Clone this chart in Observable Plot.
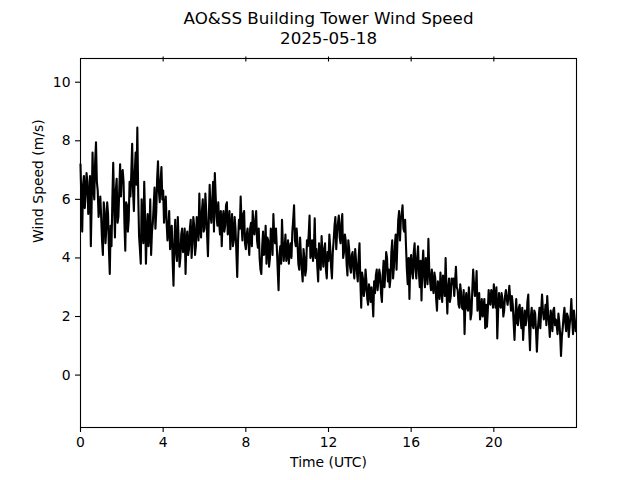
<!DOCTYPE html>
<html>
<head>
<meta charset="utf-8">
<script src="https://cdn.jsdelivr.net/npm/d3@7"></script>
<script src="https://cdn.jsdelivr.net/npm/@observablehq/plot@0.6"></script>
<style>
  html, body { margin: 0; padding: 0; background: #fff; }
  svg { display: block; }
</style>
</head>
<body>
<div id="chart"></div>
<script>
const titleLines = ["AO&SS Building Tower Wind Speed", "2025-05-18"];
const xLabel = "Time (UTC)";
const yLabel = "Wind Speed (m/s)";
const xTicks = [0, 4, 8, 12, 16, 20];
const yTicks = [0, 2, 4, 6, 8, 10];
const stepMinutes = 5;

// wind speed (m/s) at hh:00, hh:05, hh:10 ... read hour by hour from the picture
const speed = [
  // 00
  7.2, 4.9, 6.8, 6.2, 6.6, 5.9, 4.4, 7.6, 6.0, 7.95, 6.3, 5.7,
  // 01
  5.4, 4.1, 5.6, 5.0, 5.5, 3.45, 4.4, 7.25, 4.7, 6.7, 5.4, 7.2,
  // 02
  6.9, 6.6, 4.25, 5.8, 5.3, 6.1, 7.9, 5.6, 7.6, 8.45, 4.75, 3.8,
  // 03
  5.0, 6.6, 3.8, 5.5, 4.8, 4.1, 5.2, 6.4, 5.6, 7.3, 5.9, 7.1,
  // 04
  6.3, 5.7, 5.2, 5.0, 4.3, 5.1, 3.05, 5.3, 3.9, 4.6, 4.0, 5.0,
  // 05
  4.4, 3.45, 4.9, 4.3, 5.3, 4.5, 5.1, 4.4, 5.2, 6.2, 4.7, 6.0,
  // 06
  5.0, 5.6, 4.06, 6.5, 5.2, 6.6, 6.9, 5.4, 5.9, 4.8, 4.4, 5.6,
  // 07
  5.1, 5.9, 4.9, 4.3, 5.5, 4.6, 5.0, 3.35, 5.3, 6.1, 4.6, 5.6,
  // 08
  4.3, 5.0, 4.1, 5.2, 5.6, 4.8, 5.6, 4.35, 4.0, 3.45, 4.9, 4.2,
  // 09
  3.8, 4.6, 4.0, 4.8, 5.5, 4.5, 4.35, 2.9, 4.4, 5.3, 3.9, 4.8,
  // 10
  4.1, 3.8, 4.5, 4.9, 5.8, 4.4, 4.5, 3.6, 4.1, 3.2, 4.0, 3.6,
  // 11
  4.4, 5.45, 4.2, 3.9, 5.35, 4.3, 3.2, 4.1, 4.75, 3.7, 4.5, 3.3,
  // 12
  3.9, 4.35, 3.3, 4.6, 5.4, 4.9, 5.45, 4.5, 5.5, 4.2, 4.6, 3.4,
  // 13
  4.3, 3.5, 4.2, 3.3, 3.9, 3.2, 4.5, 2.3, 3.3, 2.9, 3.2, 2.4,
  // 14
  2.9, 3.0, 2.0, 2.8, 3.6, 3.2, 3.4, 2.5, 3.9, 3.5, 4.0, 3.6,
  // 15
  3.3, 4.6, 3.7, 4.8, 4.5, 5.6, 5.3, 5.8, 4.9, 4.4, 3.1, 2.6,
  // 16
  4.1, 3.3, 4.5, 3.3, 4.4, 3.0, 2.55, 4.25, 3.0, 3.6, 4.65, 3.2,
  // 17
  3.6, 2.8, 3.3, 2.2, 3.0, 3.5, 2.5, 3.2, 4.0, 2.1, 3.3, 2.7,
  // 18
  3.1, 2.7, 3.7, 2.9, 2.3, 2.8, 2.25, 1.4, 2.8, 2.2, 2.6, 2.1,
  // 19
  3.6, 2.7, 3.55, 2.5, 1.9, 2.6, 2.3, 1.6, 1.65, 2.9, 2.4, 2.8,
  // 20
  3.1, 2.3, 1.25, 2.8, 2.3, 2.6, 2.2, 2.9, 2.4, 3.05, 2.2, 2.4,
  // 21
  1.2, 2.6, 1.7, 2.4, 1.6, 1.2, 2.2, 1.9, 2.75, 0.85, 2.3, 1.6,
  // 22
  2.1, 0.8, 1.9, 1.6, 2.75, 1.9, 2.4, 2.7, 1.8, 2.2, 1.5, 2.3,
  // 23
  1.9, 1.4, 1.8, 0.65, 1.6, 2.3, 1.5, 2.0, 1.7, 2.6, 1.4, 1.9
];

// wind speed (m/s) at hh:02.5, hh:07.5, hh:12.5 ...
const speedMid = [
  // 00
  6.0, 6.5, 5.7, 6.9, 5.5, 6.8, 5.9, 6.4, 7.3, 6.6, 5.4, 6.1,
  // 01
  4.6, 5.9, 4.5, 5.9, 4.3, 5.1, 6.0, 5.8, 6.3, 5.2, 6.3, 6.1,
  // 02
  7.0, 5.2, 5.9, 4.9, 6.6, 6.9, 6.3, 6.9, 6.5, 6.2, 4.3, 6.0,
  // 03
  4.5, 5.4, 4.9, 4.4, 6.0, 4.9, 5.8, 5.0, 6.7, 6.3, 6.6, 6.0,
  // 04
  5.2, 6.1, 4.6, 5.6, 4.8, 3.9, 4.5, 4.2, 5.4, 3.7, 4.8, 4.2,
  // 05
  5.0, 4.6, 4.1, 5.0, 4.0, 5.4, 4.1, 5.4, 4.6, 5.0, 5.6, 4.9,
  // 06
  6.2, 4.8, 5.3, 5.5, 6.0, 4.9, 6.1, 5.1, 5.2, 5.6, 5.3, 4.9,
  // 07
  5.8, 4.8, 5.6, 5.0, 4.4, 5.4, 4.2, 4.6, 5.0, 5.2, 5.5, 4.5,
  // 08
  4.8, 4.5, 5.0, 4.4, 4.9, 5.3, 4.6, 5.0, 3.6, 4.4, 4.1, 5.1,
  // 09
  4.7, 3.7, 5.0, 4.1, 4.7, 5.0, 3.6, 4.1, 3.8, 4.5, 4.3, 3.9,
  // 10
  4.6, 4.3, 4.0, 5.3, 4.6, 5.0, 3.8, 4.7, 3.6, 4.3, 3.4, 4.6,
  // 11
  4.8, 4.0, 4.6, 4.3, 4.0, 3.7, 4.5, 3.6, 4.1, 4.3, 3.6, 4.2,
  // 12
  4.8, 3.7, 4.2, 5.1, 4.3, 5.2, 4.7, 5.2, 4.0, 4.8, 3.8, 4.6,
  // 13
  3.7, 4.1, 3.6, 4.3, 3.5, 4.0, 3.2, 3.5, 2.7, 3.6, 2.6, 3.1,
  // 14
  2.5, 2.6, 3.2, 3.4, 2.9, 3.6, 2.8, 3.4, 3.0, 4.2, 3.2, 3.0,
  // 15
  4.2, 3.3, 4.4, 3.6, 5.3, 4.6, 5.5, 5.0, 5.3, 3.6, 4.0, 3.9,
  // 16
  3.5, 4.2, 3.6, 4.0, 3.5, 3.9, 3.7, 3.4, 4.0, 3.1, 3.6, 2.9,
  // 17
  3.0, 3.5, 2.6, 3.2, 2.6, 3.0, 3.4, 2.7, 2.9, 3.0, 2.5, 3.3,
  // 18
  3.3, 3.2, 3.0, 2.4, 3.1, 2.3, 2.9, 2.5, 2.3, 3.0, 1.9, 2.9,
  // 19
  3.1, 2.9, 2.2, 2.8, 2.2, 2.0, 2.6, 2.4, 2.2, 2.5, 2.9, 2.3,
  // 20
  2.6, 3.0, 2.2, 2.4, 2.8, 2.0, 2.7, 2.6, 2.7, 2.6, 2.7, 1.8,
  // 21
  2.0, 1.8, 2.3, 1.9, 2.3, 1.8, 1.7, 2.5, 1.6, 2.0, 1.7, 2.2,
  // 22
  1.5, 1.5, 2.3, 2.2, 2.2, 2.0, 1.7, 2.1, 1.3, 2.0, 2.2, 1.7,
  // 23
  1.7, 2.1, 1.4, 1.3, 2.0, 1.8, 2.1, 1.3, 2.0, 1.9, 2.2, 1.5
];

const data = [];
speed.forEach((v, i) => {
  data.push({hour: i * stepMinutes / 60, speed: v});
  data.push({hour: (i + 0.5) * stepMinutes / 60, speed: speedMid[i]});
});

const font = "DejaVu Sans";

const chart = Plot.plot({
  width: 640,
  height: 480,
  marginLeft: 80,
  marginRight: 64,
  marginTop: 58,
  marginBottom: 53,
  style: {fontFamily: font, fontSize: "13.9px", color: "black", background: "white", overflow: "visible"},
  x: {domain: [0, 24]},
  y: {domain: [-1.79, 10.81]},
  marks: [
    Plot.line(data, {x: "hour", y: "speed", stroke: "black", strokeWidth: 2.1}),
    Plot.frame({stroke: "black", strokeWidth: 1.1}),
    Plot.axisX({ticks: xTicks, tickSize: 5, tickPadding: 5, tickFormat: d => String(d), label: null, strokeWidth: 1.1}),
    Plot.axisX({anchor: "top", ticks: xTicks.filter(d => d > 0), tickSize: 5, dy: 2.5, tickFormat: () => "", label: null, strokeWidth: 1.1}),
    Plot.axisY({ticks: yTicks, tickSize: 5, tickPadding: 5, tickFormat: d => String(d), label: null, strokeWidth: 1.1}),
    Plot.text([xLabel], {frameAnchor: "bottom", dy: 35, lineAnchor: "middle", fontSize: 13.9}),
    Plot.text([yLabel], {frameAnchor: "left", dx: -42, rotate: -90, lineAnchor: "middle", fontSize: 13.9}),
    Plot.text([titleLines[0]], {frameAnchor: "top", dy: -40, lineAnchor: "middle", fontSize: 16.7}),
    Plot.text([titleLines[1]], {frameAnchor: "top", dy: -20, lineAnchor: "middle", fontSize: 16.7})
  ]
});

document.getElementById("chart").appendChild(chart);
</script>
</body>
</html>
